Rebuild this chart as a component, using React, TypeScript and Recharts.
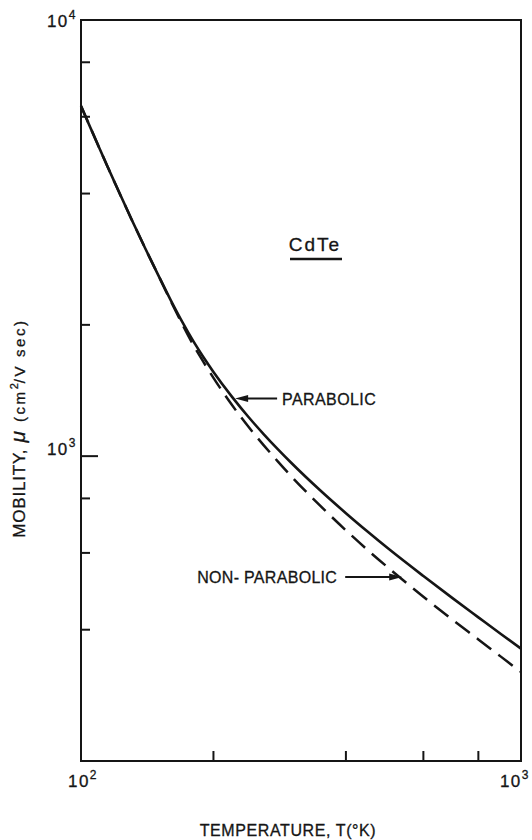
import {
  LineChart,
  Line,
  XAxis,
  YAxis,
  ReferenceArea,
  ReferenceDot,
  Customized,
} from "recharts";

const INK = "#151515";
const FONT = "'Liberation Sans', Arial, sans-serif";

// temperature, T (K)
const temperatures = [
  100, 105, 110, 115, 120, 130, 140, 150, 160, 170, 180, 190, 200, 220, 240,
  260, 280, 300, 350, 400, 450, 500, 600, 700, 800, 900, 1000,
];
// mobility (cm2/V sec)
const parabolic = [
  6350, 5670, 5093, 4604, 4183, 3508, 2993, 2594, 2277, 2029, 1835, 1683, 1560,
  1371, 1231, 1124, 1038, 967, 834, 740, 669, 613, 531, 472, 427, 391, 362,
];
const nonParabolic = [
  6350, 5670, 5093, 4604, 4183, 3508, 2993, 2594, 2266, 2005, 1798, 1641, 1512,
  1313, 1169, 1060, 973, 901, 769, 676, 607, 554, 476, 421, 380, 347, 320,
];

const xTicks = [100, 200, 400, 600, 800, 1000];
const yTicks = [200, 400, 600, 800, 1000, 2000, 4000, 6000, 8000, 10000];

const data = temperatures.map((T, i) => ({
  T,
  para: parabolic[i],
  nonpara: nonParabolic[i],
}));

const isDecade = (v: number) => Math.abs(Math.log10(v) % 1) < 1e-9;

const PowerLabel = ({ x, y, exp, anchor }: any) => (
  <text
    x={x}
    y={y}
    textAnchor={anchor}
    fontFamily={FONT}
    fontSize={17}
    letterSpacing={1.5}
    fill={INK}
    stroke={INK}
    strokeWidth={0.3}
  >
    10
    <tspan dy={-8} fontSize={12}>
      {exp}
    </tspan>
  </text>
);

const YTick = ({ x, y, payload }: any) => {
  const v = payload.value;
  const exp = Math.round(Math.log10(v));
  const len = v === 1000 ? 17 : 9;
  return (
    <g>
      {v !== 200 && v !== 10000 && (
        <line x1={x} y1={y} x2={x + len} y2={y} stroke={INK} strokeWidth={2} />
      )}
      {isDecade(v) && v !== 100 && (
        <PowerLabel x={x - 4} y={y + (v === 10000 ? 7 : -1)} exp={exp} anchor="end" />
      )}
    </g>
  );
};

const XTick = ({ x, y, payload }: any) => {
  const v = payload.value;
  const exp = Math.round(Math.log10(v));
  return (
    <g>
      {!isDecade(v) && (
        <line x1={x} y1={y} x2={x} y2={y - 10} stroke={INK} strokeWidth={2} />
      )}
      {v === 100 && <PowerLabel x={x + 2} y={y + 26} exp={exp} anchor="middle" />}
      {v === 1000 && <PowerLabel x={x + 9} y={y + 26} exp={exp} anchor="end" />}
    </g>
  );
};

const textStyle = {
  fontFamily: FONT,
  fill: INK,
  stroke: INK,
  strokeWidth: 0.3,
};

const ParabolicArrow = ({ cx, cy }: any) => (
  <g>
    <polygon
      points={`${cx},${cy} ${cx + 13},${cy - 3.5} ${cx + 13},${cy + 3.5}`}
      fill={INK}
    />
    <line x1={cx + 10} y1={cy} x2={cx + 42} y2={cy} stroke={INK} strokeWidth={2} />
    <text x={cx + 47} y={cy + 6} fontSize={16} letterSpacing={0.4} style={textStyle}>
      PARABOLIC
    </text>
  </g>
);

const NonParabolicArrow = ({ cx, cy }: any) => (
  <g>
    <polygon
      points={`${cx},${cy} ${cx - 13},${cy - 3.5} ${cx - 13},${cy + 3.5}`}
      fill={INK}
    />
    <line x1={cx - 57} y1={cy} x2={cx - 10} y2={cy} stroke={INK} strokeWidth={2} />
    <text
      x={cx - 65}
      y={cy + 6}
      textAnchor="end"
      fontSize={16}
      letterSpacing={0.3}
      style={textStyle}
    >
      NON- PARABOLIC
    </text>
  </g>
);

const Titles = () => (
  <g>
    <text
      transform="translate(25,428) rotate(-90)"
      textAnchor="middle"
      fontSize={17}
      style={textStyle}
    >
      <tspan letterSpacing={0.8}>MOBILITY,</tspan>
      <tspan dx={6} fontSize={21} fontStyle="italic">
        μ
      </tspan>
      <tspan dx={9} fontSize={15} letterSpacing={2.6}>
        (cm
      </tspan>
      <tspan dy={-7} fontSize={11}>
        2
      </tspan>
      <tspan dy={7} fontSize={15} letterSpacing={2.6}>
        /V  sec)
      </tspan>
    </text>
    <text
      x={288}
      y={836}
      textAnchor="middle"
      fontSize={16}
      letterSpacing={0.6}
      style={textStyle}
    >
      TEMPERATURE, T(°K)
    </text>
    <text
      x={315}
      y={251}
      textAnchor="middle"
      fontSize={19}
      letterSpacing={2}
      style={textStyle}
    >
      CdTe
    </text>
    <line x1={290} y1={259} x2={342} y2={259} stroke={INK} strokeWidth={2.4} />
  </g>
);

const App = () => {
  return (
    <div style={{ position: "absolute", left: 0, top: 0, background: "#fff" }}>
      <LineChart
        width={532}
        height={840}
        data={data}
        margin={{ top: 20, right: 11, bottom: 0, left: 0 }}
      >
        <XAxis
          type="number"
          dataKey="T"
          scale="log"
          domain={[100, 1000]}
          ticks={xTicks}
          interval={0}
          tickSize={0}
          tickMargin={0}
          axisLine={false}
          tickLine={false}
          tick={(p: any) => <XTick {...p} />}
          height={79}
        />
        <YAxis
          type="number"
          scale="log"
          domain={[200, 10000]}
          ticks={yTicks}
          interval={0}
          tickSize={0}
          tickMargin={0}
          axisLine={false}
          tickLine={false}
          tick={(p: any) => <YTick {...p} />}
          width={81}
        />
        <ReferenceArea
          x1={100}
          x2={1000}
          y1={200}
          y2={10000}
          fill="none"
          fillOpacity={0}
          stroke={INK}
          strokeWidth={2}
        />
        <Line
          dataKey="nonpara"
          type="monotone"
          stroke={INK}
          strokeWidth={2.5}
          strokeDasharray="18 9"
          dot={false}
          isAnimationActive={false}
        />
        <Line
          dataKey="para"
          type="monotone"
          stroke={INK}
          strokeWidth={2.6}
          dot={false}
          isAnimationActive={false}
        />
        <ReferenceDot x={224} y={1355} r={0} shape={(p: any) => <ParabolicArrow {...p} />} />
        <ReferenceDot x={537} y={528} r={0} shape={(p: any) => <NonParabolicArrow {...p} />} />
        <Customized component={Titles} />
      </LineChart>
    </div>
  );
};

export default App;
